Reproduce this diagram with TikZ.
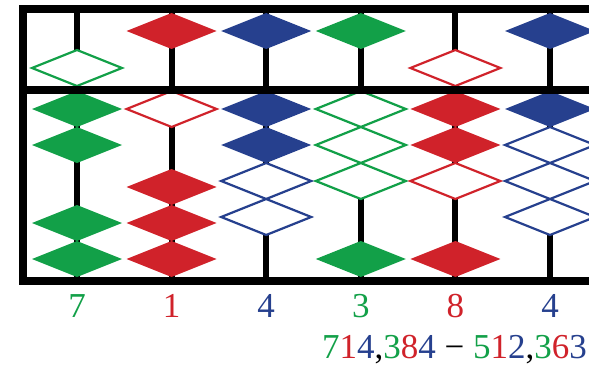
\documentclass[tikz,border=0pt]{standalone}
\usepackage{fontspec}
\setmainfont{Liberation Serif}
\usetikzlibrary{shapes.geometric}
\definecolor{bgreen}{RGB}{18,160,72}
\definecolor{bred}{RGB}{208,34,42}
\definecolor{bblue}{RGB}{38,64,142}
\newcommand{\G}[1]{\textcolor{bgreen}{#1}}
\newcommand{\R}[1]{\textcolor{bred}{#1}}
\newcommand{\B}[1]{\textcolor{bblue}{#1}}
\begin{document}
\begin{tikzpicture}[x=1pt,y=-1pt,
  bead/.style={diamond, minimum width=90pt, minimum height=36pt, inner sep=0pt, outer sep=0pt},
  full/.style={bead, fill=#1},
  hollow/.style={bead, draw=#1, fill=white, line width=2.2pt},
  rod/.style={line width=6pt},
  bar/.style={line width=8pt, line join=miter},
  digit/.style={font=\fontsize{35}{42}\selectfont, anchor=base, text=#1, inner sep=0pt}]
\useasboundingbox (0,0) rectangle (589,369);
% rods
\foreach \i/\x in {1/77,2/171.6,3/266.2,4/360.8,5/455.4,6/550}{
  \coordinate (r\i t) at (\x,9);
  \coordinate (r\i b) at (\x,281);
  \draw[rod] (r\i t) -- (r\i b);
}
% column 1
\node[hollow=bgreen] (c1u) at (77,68) {};
\node[full=bgreen] (c1a) at (77,109) {};
\node[full=bgreen] (c1b) at (77,145) {};
\node[full=bgreen] (c1c) at (77,223) {};
\node[full=bgreen] (c1d) at (77,259) {};
% column 2
\node[full=bred] (c2u) at (171.6,31) {};
\node[hollow=bred] (c2a) at (171.6,109) {};
\node[full=bred] (c2b) at (171.6,187) {};
\node[full=bred] (c2c) at (171.6,223) {};
\node[full=bred] (c2d) at (171.6,259) {};
% column 3
\node[full=bblue] (c3u) at (266.2,31) {};
\node[full=bblue] (c3a) at (266.2,109) {};
\node[full=bblue] (c3b) at (266.2,145) {};
\node[hollow=bblue] (c3c) at (266.2,181) {};
\node[hollow=bblue] (c3d) at (266.2,217) {};
% column 4
\node[full=bgreen] (c4u) at (360.8,31) {};
\node[hollow=bgreen] (c4a) at (360.8,109) {};
\node[hollow=bgreen] (c4b) at (360.8,145) {};
\node[hollow=bgreen] (c4c) at (360.8,181) {};
\node[full=bgreen] (c4d) at (360.8,259) {};
% column 5
\node[hollow=bred] (c5u) at (455.4,68) {};
\node[full=bred] (c5a) at (455.4,109) {};
\node[full=bred] (c5b) at (455.4,145) {};
\node[hollow=bred] (c5c) at (455.4,181) {};
\node[full=bred] (c5d) at (455.4,259) {};
% column 6
\node[full=bblue] (c6u) at (550,31) {};
\node[full=bblue] (c6a) at (550,109) {};
\node[hollow=bblue] (c6b) at (550,145) {};
\node[hollow=bblue] (c6c) at (550,181) {};
\node[hollow=bblue] (c6d) at (550,217) {};
% frame
\coordinate (tl) at (22.5,9);
\coordinate (tr) at (600,9);
\coordinate (ml) at (22.5,90);
\coordinate (mr) at (600,90);
\coordinate (bl) at (22.5,281);
\coordinate (br) at (600,281);
\draw[bar] (tr) -- (tl) -- (bl) -- (br);
\draw[bar] (ml) -- (mr);
% digits
\node[digit=bgreen] (d1) at (77,317) {7};
\node[digit=bred] (d2) at (171.6,317) {1};
\node[digit=bblue] (d3) at (266.2,317) {4};
\node[digit=bgreen] (d4) at (360.8,317) {3};
\node[digit=bred] (d5) at (455.4,317) {8};
\node[digit=bblue] (d6) at (550,317) {4};
\node[font=\fontsize{35}{42}\selectfont, anchor=base west, inner sep=0pt] (sum) at (322,358)
  {\G{7}\R{1}\B{4},\G{3}\R{8}\B{4} − \G{5}\R{1}\B{2},\G{3}\R{6}\B{3}};
\end{tikzpicture}
\end{document}
